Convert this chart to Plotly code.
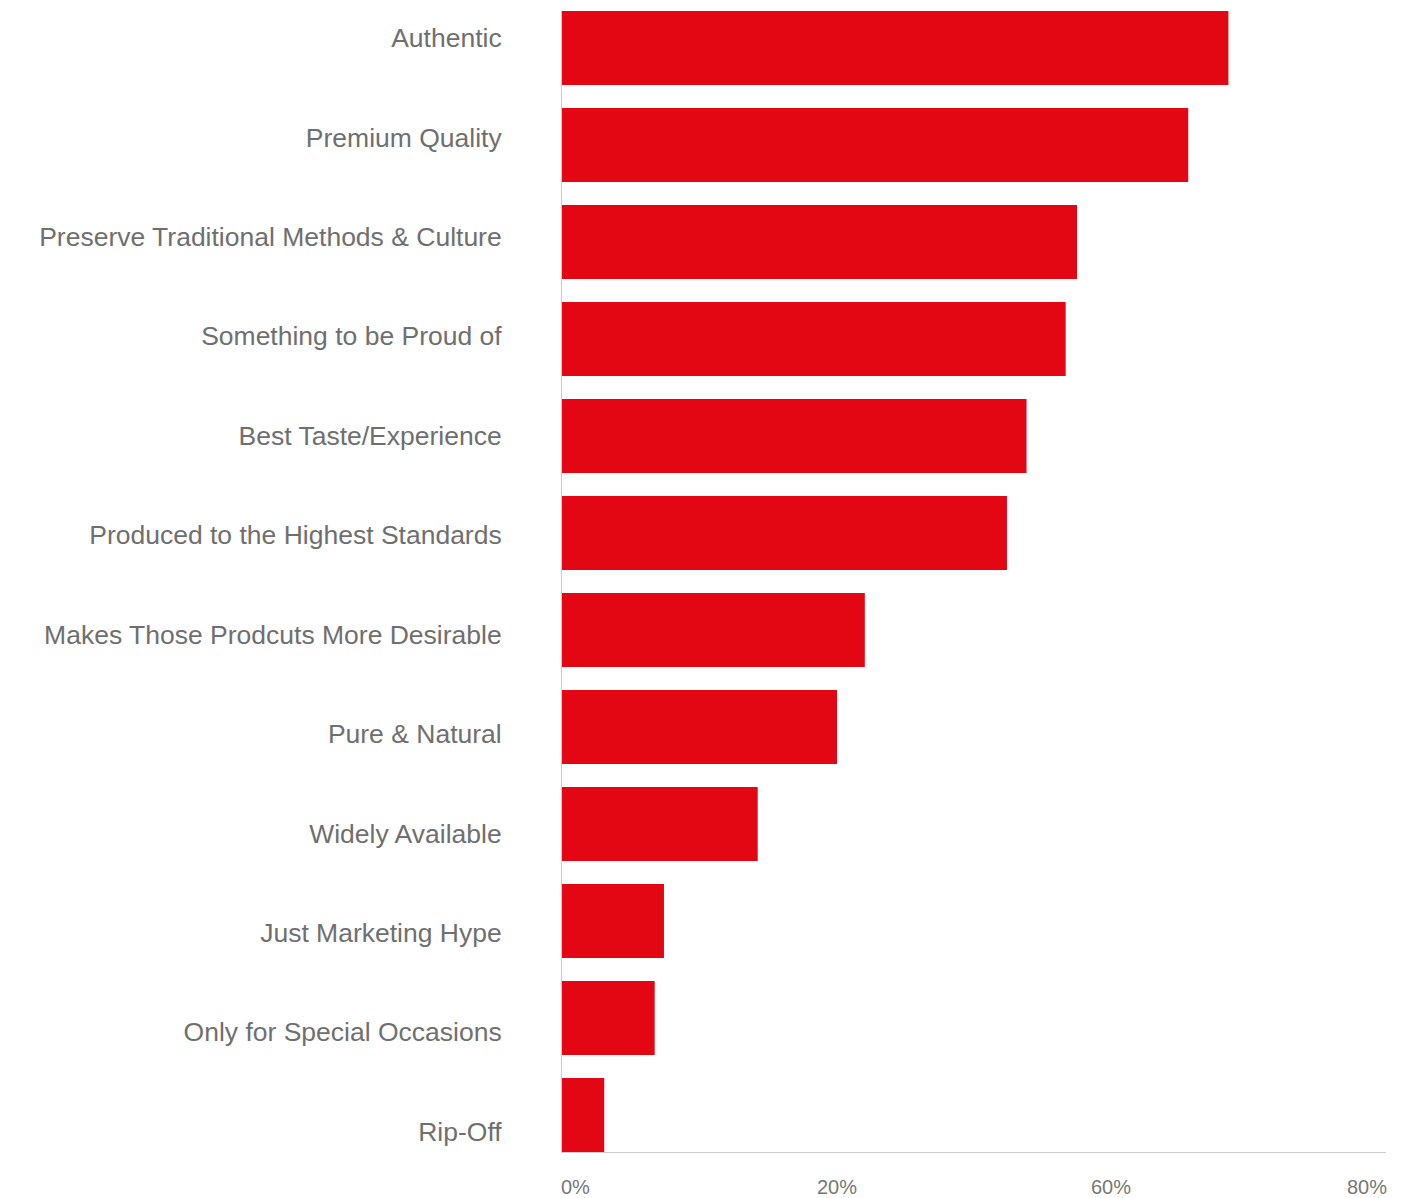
import plotly.graph_objects as go

categories = [
    "Authentic",
    "Premium Quality",
    "Preserve Traditional Methods & Culture",
    "Something to be Proud of",
    "Best Taste/Experience",
    "Produced to the Highest Standards",
    "Makes Those Prodcuts More Desirable",
    "Pure & Natural",
    "Widely Available",
    "Just Marketing Hype",
    "Only for Special Occasions",
    "Rip-Off",
]
values = [64.7, 60.8, 50.0, 48.9, 45.1, 43.2, 29.4, 26.7, 19.0, 9.9, 9.0, 4.1]

tick_vals = [0, 80 / 3, 160 / 3, 80]
tick_text = ["0%", "20%", "60%", "80%"]
tick_anchor = ["left", "center", "center", "right"]
tick_nudge = {"left": -3, "center": 0, "right": 3}

RED = "#e30613"
GRAY = "#6f6f6f"
FONT = "Liberation Sans"

fig = go.Figure()
fig.add_trace(go.Bar(
    x=values, y=categories, orientation="h",
    marker=dict(color=RED, line=dict(width=0)),
    width=0.763, xaxis="x", yaxis="y", showlegend=False,
))
# invisible helper trace that carries the category labels on a second y axis
fig.add_trace(go.Scatter(
    x=values, y=categories, mode="markers",
    marker=dict(opacity=0), hoverinfo="skip",
    xaxis="x", yaxis="y2", showlegend=False,
))

n = len(categories)
fig.update_layout(
    width=1411, height=1198,
    margin=dict(l=554, r=33, t=3, b=54),
    paper_bgcolor="white", plot_bgcolor="white",
    font=dict(family=FONT, color=GRAY),
    xaxis=dict(
        range=[0, 80], tickvals=tick_vals, ticktext=tick_text,
        showticklabels=False, showgrid=False, zeroline=False,
        showline=True, linecolor="#cccccc", linewidth=1,
    ),
    yaxis=dict(
        type="category", categoryarray=categories,
        range=[n - 1 + 0.3815, -0.3815],
        showticklabels=False, showgrid=False, zeroline=False,
        showline=True, linecolor="#cccccc", linewidth=1,
    ),
    yaxis2=dict(
        type="category", categoryarray=categories, overlaying="y", side="left",
        range=[11.207, -0.2716],
        showgrid=False, zeroline=False, showline=False,
        ticks="outside", ticklen=54, tickcolor="rgba(0,0,0,0)",
        tickfont=dict(family=FONT, size=26.5, color=GRAY),
    ),
)

for tv, tt, anc in zip(tick_vals, tick_text, tick_anchor):
    fig.add_annotation(
        x=tv, xref="x", y=0, yref="paper", yanchor="top", yshift=-22,
        xshift=tick_nudge[anc],
        text=tt, showarrow=False, xanchor=anc,
        font=dict(family=FONT, size=20, color="#777777"),
    )

fig.write_html("out.html")
